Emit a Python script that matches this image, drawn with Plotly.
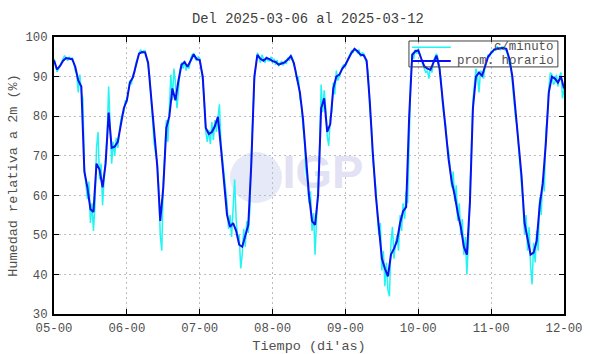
import numpy as np
import plotly.graph_objects as go

# ---------------- data ----------------
TITLE = "Del 2025-03-06 al 2025-03-12"
Y_TITLE = "Humedad relativa a 2m (%)"
X_TITLE = "Tiempo (di'as)"
TICK_LABELS = ["05-00", "06-00", "07-00", "08-00", "09-00", "10-00", "11-00", "12-00"]
SERIES_NAMES = ["c/minuto", "prom. horario"]

# hourly mean, one value per hour from 05-00 to 12-00
HOURLY = [
    94.1, 91.8, 92.7, 94.0, 94.7, 94.5, 94.4, 92.5, 89.0, 87.5, 66.0, 62.0,
    56.5, 55.8, 68.0, 66.5, 62.0, 68.0, 80.9, 72.0, 72.3, 73.5, 78.0, 82.0,
    84.0, 88.5, 89.8, 93.0, 95.8, 96.2, 96.1, 93.5, 85.0, 74.5, 67.5, 53.5,
    62.0, 77.0, 80.0, 87.0, 84.0, 89.0, 93.0, 93.7, 92.5, 94.0, 95.6, 94.4,
    94.2, 90.0, 77.0, 75.5, 76.0, 77.5, 79.8, 72.0, 64.0, 55.0, 52.0, 53.0,
    51.0, 47.5, 47.0, 49.5, 52.5, 68.0, 90.0, 95.5, 94.5, 94.0, 94.7, 94.4,
    93.9, 93.7, 93.0, 93.3, 93.6, 94.3, 95.2, 93.5, 90.0, 86.0, 79.5, 69.0,
    60.0, 53.5, 52.5, 60.0, 82.0, 84.5, 76.0, 78.0, 87.0, 90.0, 90.5, 92.0,
    93.0, 94.5, 96.0, 97.0, 96.4, 95.5, 95.4, 94.0, 84.0, 71.0, 60.0, 52.0,
    44.0, 41.5, 39.5, 45.0, 46.5, 48.5, 53.0, 56.0, 57.0, 80.0, 95.5, 96.4,
    96.6, 94.5, 92.6, 92.0, 91.7, 93.5, 95.3, 92.0, 84.0, 76.0, 69.0, 63.5,
    60.0, 55.5, 52.0, 47.0, 45.0, 58.0, 82.0, 90.0, 91.0, 90.2, 92.5, 95.0,
    96.0, 96.8, 97.1, 97.1, 97.2, 97.0, 94.5, 90.0, 82.0, 74.0, 65.0, 53.0,
    49.0, 45.0, 45.5, 48.5, 57.5, 63.0, 73.0, 86.0, 90.0, 89.5, 88.5, 90.0,
    87.0,
]

# minute series, read every half hour
MINUTE = [
    # 05
    94.5, 93.0, 91.2, 92.0, 93.0, 93.8, 94.5, 95.3, 94.8, 94.0, 95.0, 94.2,
    94.8, 93.5, 91.5, 90.5, 86.0, 90.5, 86.0, 84.5, 67.0, 63.0, 59.0, 63.5,
    53.0, 58.0, 51.0, 57.5, 72.0, 76.0, 64.0, 68.0, 57.5, 64.0, 70.0, 75.0,
    87.5, 78.0, 68.0, 73.5, 70.0, 74.5, 72.0, 75.5, 79.0, 80.5, 81.0, 84.0,
    # 06
    83.5, 86.5, 89.0, 88.0, 90.5, 91.0, 93.5, 94.5, 95.5, 96.8, 96.0, 96.5,
    96.5, 95.0, 93.0, 90.0, 84.0, 80.0, 73.0, 70.5, 68.5, 62.0, 50.0, 46.0,
    63.0, 70.0, 79.0, 73.5, 81.0, 90.5, 84.0, 92.0, 88.5, 82.0, 86.5, 91.5,
    93.5, 92.0, 94.0, 91.5, 93.0, 92.0, 94.5, 95.5, 95.8, 94.5, 94.0, 95.0,
    # 07
    94.6, 92.0, 89.0, 84.0, 76.0, 73.5, 76.5, 73.0, 78.5, 74.0, 79.0, 76.0,
    80.0, 83.0, 73.0, 69.5, 65.0, 61.0, 58.0, 51.5, 55.0, 49.5, 56.0, 64.0,
    54.0, 49.0, 50.0, 41.5, 45.0, 51.5, 47.0, 53.5, 50.5, 56.0, 70.0, 80.0,
    89.0, 93.0, 96.0, 95.0, 93.5, 95.5, 94.5, 93.5, 95.0, 94.0, 94.0, 95.0,
    # 08
    93.5, 94.5, 93.0, 94.2, 92.6, 93.5, 93.8, 92.8, 94.0, 93.2, 94.8, 94.0,
    95.5, 94.8, 92.8, 92.0, 89.0, 90.0, 84.5, 83.0, 77.5, 74.0, 66.0, 63.5,
    58.0, 61.0, 51.0, 55.5, 45.0, 53.5, 62.0, 72.0, 88.0, 81.0, 86.5, 82.0,
    75.0, 72.5, 79.5, 81.0, 88.5, 85.5, 91.5, 89.0, 90.0, 91.5, 92.5, 93.0,
    # 09
    92.5, 94.0, 95.0, 95.5, 96.5, 96.0, 97.2, 96.5, 96.0, 96.8, 95.0, 96.0,
    95.8, 95.0, 93.0, 91.0, 82.0, 78.0, 69.0, 66.0, 62.0, 55.0, 50.0, 53.0,
    41.0, 46.0, 37.0, 43.0, 36.0, 34.5, 48.0, 52.0, 44.0, 48.0, 50.0, 46.0,
    55.0, 51.0, 58.0, 54.0, 61.0, 58.0, 78.0, 89.0, 96.0, 94.5, 96.8, 95.8,
    # 10
    97.0, 95.5, 94.0, 93.0, 92.0, 91.0, 91.5, 89.5, 92.5, 91.0, 94.0, 95.0,
    95.8, 94.5, 92.5, 89.0, 83.0, 80.0, 78.0, 73.0, 71.0, 67.0, 62.0, 66.0,
    58.5, 62.5, 53.5, 58.0, 50.0, 54.0, 45.0, 49.5, 40.0, 47.5, 60.0, 72.0,
    84.0, 88.0, 92.0, 90.5, 86.0, 91.5, 91.0, 89.5, 93.0, 94.0, 95.5, 95.0,
    # 11
    96.5, 96.0, 97.0, 96.5, 97.6, 97.0, 96.8, 97.5, 97.5, 96.8, 96.5, 95.5,
    93.0, 92.5, 88.0, 85.0, 80.0, 77.5, 73.0, 69.0, 64.0, 58.0, 50.0, 55.0,
    46.0, 52.0, 42.0, 37.5, 48.0, 43.0, 51.0, 46.0, 59.5, 55.0, 64.5, 61.0,
    75.5, 80.0, 87.0, 91.0, 90.5, 88.0, 88.5, 90.5, 87.5, 90.0, 91.0, 84.5,
    # 12
    87.0,
]

HOURS_PER_DAY = 24

# ---------------- style ----------------
FONT = "Liberation Mono"
TEXT_COLOR = "#505050"
CYAN = "#22f4f4"
BLUE = "#0a10ee"

x_hour = np.arange(len(HOURLY))
x_min = np.arange(len(MINUTE)) * 0.5
tickvals = [i * HOURS_PER_DAY for i in range(len(TICK_LABELS))]

fig = go.Figure()

# watermark text (drawn first so data lines pass over it)
fig.add_trace(go.Scatter(
    x=[88.6], y=[64.7], mode="text", text=["<b>IGP</b>"],
    textfont=dict(family="Liberation Sans", size=47, color="#e2e2f4"),
    showlegend=False, hoverinfo="skip",
))

fig.add_trace(go.Scatter(
    x=x_min, y=MINUTE, mode="lines", name=SERIES_NAMES[0],
    line=dict(color=CYAN, width=1.5), showlegend=False,
))
fig.add_trace(go.Scatter(
    x=x_hour, y=HOURLY, mode="lines", name=SERIES_NAMES[1],
    line=dict(color=BLUE, width=2), showlegend=False,
))

# watermark disc
fig.add_shape(type="circle", xref="paper", yref="paper",
              x0=0.345, x1=0.447, y0=0.401, y1=0.585,
              fillcolor="#e6e9f7", line=dict(width=0), layer="below")

# key box (gnuplot style): frame, line samples, right-aligned labels
KEY = dict(x0=0.696, x1=0.988, y0=0.892, y1=0.9856,
           sample_x0=0.702, sample_x1=0.778, text_x=0.984,
           rows=[0.963, 0.913])
fig.add_shape(type="rect", xref="paper", yref="paper",
              x0=KEY["x0"], x1=KEY["x1"], y0=KEY["y0"], y1=KEY["y1"],
              line=dict(color="#404040", width=1), fillcolor="rgba(0,0,0,0)",
              layer="above")
for name, color, width, ry in zip(SERIES_NAMES, [CYAN, BLUE], [1.5, 2], KEY["rows"]):
    fig.add_shape(type="line", xref="paper", yref="paper",
                  x0=KEY["sample_x0"], x1=KEY["sample_x1"], y0=ry, y1=ry,
                  line=dict(color=color, width=width), layer="above")
    fig.add_annotation(xref="paper", yref="paper", x=KEY["text_x"], y=ry,
                       xanchor="right", yanchor="middle", text=name, showarrow=False,
                       font=dict(family=FONT, size=12.4, color=TEXT_COLOR))

axis_common = dict(
    showline=True, linecolor="black", linewidth=2, mirror="allticks",
    ticks="inside", ticklen=5, tickcolor="black", tickwidth=1,
    showgrid=True, gridcolor="#bdbdbd", griddash="2px,3px", gridwidth=1,
    zeroline=False, automargin=False,
    tickfont=dict(family=FONT, size=12.3, color=TEXT_COLOR),
)

fig.update_xaxes(
    range=[0, tickvals[-1]], tickvals=tickvals, ticktext=TICK_LABELS,
    title=dict(text=X_TITLE, font=dict(family=FONT, size=13.5, color=TEXT_COLOR), standoff=14),
    ticklabelstandoff=1,
    **axis_common,
)
fig.update_yaxes(
    range=[30, 100], dtick=10,
    title=dict(text=Y_TITLE, font=dict(family=FONT, size=13.5, color=TEXT_COLOR), standoff=5),
    ticklabelstandoff=2,
    **axis_common,
)

fig.update_layout(
    width=590, height=354,
    margin=dict(l=54, r=26, t=37, b=40, autoexpand=False),
    paper_bgcolor="white", plot_bgcolor="white",
    title=dict(text=TITLE, x=0.522, xanchor="center", y=0.95, yanchor="middle",
               font=dict(family=FONT, size=13.8, color="#404040")),
    showlegend=False,
)

fig.write_html("out.html")
